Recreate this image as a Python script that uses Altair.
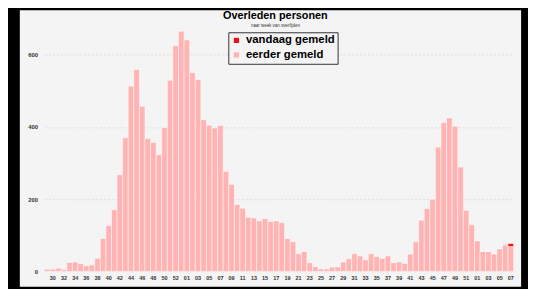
import altair as alt
import pandas as pd

# ---- data ----
weeks_2020 = list(range(29, 54))
weeks_2021 = list(range(1, 53))
weeks_2022 = list(range(1, 8))

eerder_2020 = [6, 6, 9, 5, 25, 26, 22, 16, 18, 36, 91, 127, 171, 268, 370,
               513, 559, 457, 368, 357, 323, 398, 529, 625, 665]
eerder_2021 = [641, 550, 531, 420, 405, 397, 404, 277, 241, 185, 175, 150, 148,
               140, 146, 138, 140, 135, 91, 82, 49, 55, 24, 13, 7, 7, 12, 12,
               26, 35, 49, 43, 32, 49, 41, 36, 43, 24, 26, 22, 48, 82, 142,
               174, 200, 344, 412, 425, 402, 289, 169, 129]
eerder_2022 = [85, 56, 55, 49, 63, 73, 69]
vandaag_2022 = [0, 0, 0, 0, 0, 1, 8]

series = ["vandaag gemeld", "eerder gemeld"]
colors = ["#ee1111", "#ffb3b3"]

rows = []
keys = []
for year, weeks, vals in [(2020, weeks_2020, eerder_2020),
                          (2021, weeks_2021, eerder_2021),
                          (2022, weeks_2022, eerder_2022)]:
    for w, v in zip(weeks, vals):
        k = f"{year}-{w:02d}"
        keys.append(k)
        rows.append({"key": k, "serie": "eerder gemeld", "n": v, "ord": 0})
for w, v in zip(weeks_2022, vandaag_2022):
    rows.append({"key": f"2022-{w:02d}", "serie": "vandaag gemeld", "n": v, "ord": 1})

df = pd.DataFrame(rows)
label_keys = keys[1::2]

chart = alt.Chart(df).mark_bar(stroke="white", strokeWidth=0.5).encode(
    x=alt.X("key:N", sort=keys,
            scale=alt.Scale(range=[25, 501.4], paddingInner=0.0, paddingOuter=0),
            axis=alt.Axis(values=label_keys, labelExpr="slice(datum.value, 5)",
                          title=None, labelAngle=0, ticks=False, domain=False,
                          grid=False, offset=-13, labelFontSize=5.5,
                          labelPadding=2, labelColor="#333",
                          labelFont="Liberation Sans", labelFontWeight="bold")),
    y=alt.Y("n:Q", stack=True,
            scale=alt.Scale(domain=[-42.8, 723.5], nice=False, zero=False),
            axis=alt.Axis(values=[0, 200, 400, 600], title=None, ticks=False,
                          domain=False, offset=-20, labelPadding=2, grid=True,
                          gridDash=[2, 2], gridColor="#d8d8d8", gridWidth=0.8,
                          labelFontSize=6, labelColor="#333",
                          labelFont="Liberation Sans", labelFontWeight="bold")),
    color=alt.Color("serie:N",
                    scale=alt.Scale(domain=series, range=colors),
                    legend=alt.Legend(orient="none", legendX=211.7, legendY=22.5,
                                      title=None, fillColor="#f4f4f4",
                                      strokeColor="#333", padding=2.5,
                                      symbolType="square", symbolSize=28,
                                      symbolStrokeWidth=0,
                                      labelFontSize=11.5, labelFont="Liberation Sans",
                                      labelFontWeight="bold", labelColor="black",
                                      rowPadding=1.8, labelOffset=4)),
    order=alt.Order("ord:Q"),
).properties(
    width=509, height=281,
    autosize=alt.AutoSizeParams(type="none"),
    padding={"left": 12, "top": 0, "right": 7, "bottom": 0},
    background="black",
    title=alt.TitleParams(text="Overleden personen",
                          subtitle="naar week van overlijden",
                          fontSize=11, font="Liberation Sans", fontWeight="bold",
                          color="black", subtitleFontSize=4.5,
                          subtitleFont="Liberation Sans", subtitleColor="#333",
                          subtitlePadding=3, anchor="middle", offset=-18, dx=5),
).configure_view(fill="#f4f4f4", strokeWidth=0)

chart.save("out.html", embed_options={"renderer": "svg", "actions": False})
